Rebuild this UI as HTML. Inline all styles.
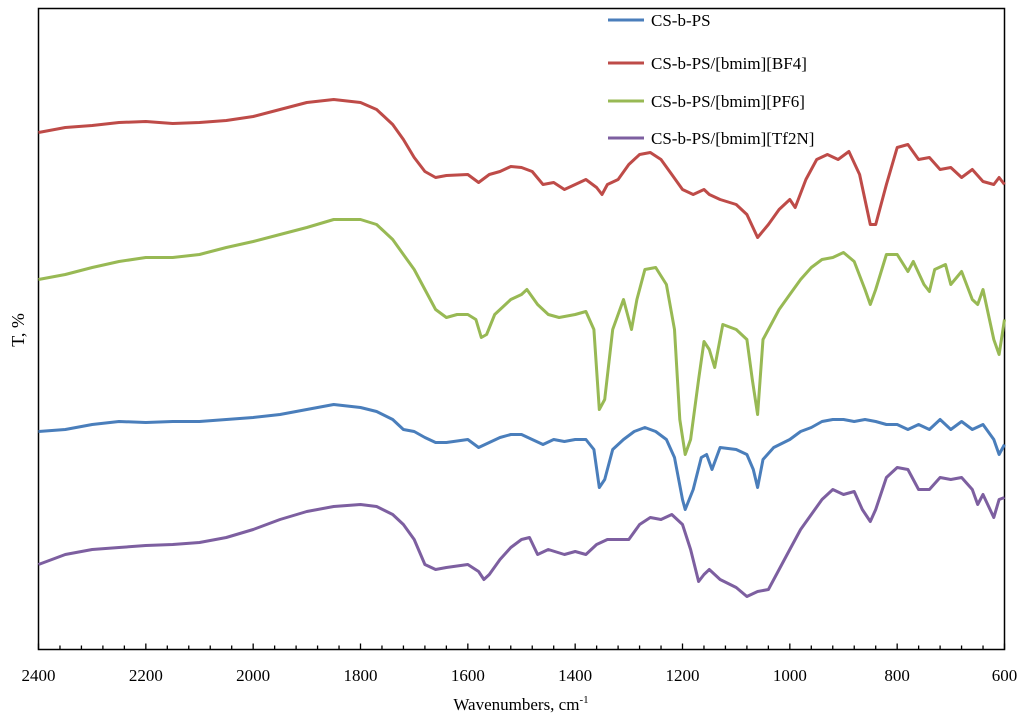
<!DOCTYPE html>
<html><head><meta charset="utf-8"><style>
html,body{margin:0;padding:0;background:#fff}
svg{display:block}
text{font-family:"Liberation Serif",serif;fill:#000}
</style></head><body>
<svg id="chart" width="1024" height="721" viewBox="0 0 1024 721" xmlns="http://www.w3.org/2000/svg">
<rect x="38.5" y="8.5" width="966" height="641" fill="none" stroke="#000" stroke-width="1.5"/>
<g id="ticks"></g>
<g id="series"></g>
<g id="legend"></g>
<text x="521" y="710" font-size="17" text-anchor="middle">Wavenumbers, cm<tspan font-size="11" dy="-7">-1</tspan></text>
<text transform="translate(24,330) rotate(-90)" font-size="18" text-anchor="middle">T, %</text>
</svg>
<script>
const xTicks=[2400,2200,2000,1800,1600,1400,1200,1000,800,600];
const seriesNames=["CS-b-PS","CS-b-PS/[bmim][BF4]","CS-b-PS/[bmim][PF6]","CS-b-PS/[bmim][Tf2N]"];
const wnRed=[2400,2350,2300,2250,2200,2150,2100,2050,2000,1950,1900,1850,1800,1770,1740,1720,1700,1680,1660,1640,1600,1580,1560,1540,1520,1500,1480,1460,1440,1420,1400,1380,1360,1350,1340,1320,1300,1280,1260,1240,1220,1200,1180,1160,1150,1130,1100,1080,1060,1040,1020,1000,990,970,950,930,910,890,870,850,840,820,800,780,760,740,720,700,680,660,640,620,610,600];
const tRed=[517,522,524,527,528,526,527,529,533,540,547,550,547,540,525,510,492,478,472,474,475,467,475,478,483,482,478,465,467,460,465,470,462,455,465,470,485,495,497,490,475,460,455,460,455,450,445,435,412,425,440,450,442,470,490,495,490,498,475,425,425,465,502,505,490,492,480,482,472,480,468,465,472,465];
const wnGreen=[2400,2350,2300,2250,2200,2150,2100,2050,2000,1950,1900,1850,1800,1770,1740,1720,1700,1680,1660,1640,1620,1600,1585,1575,1565,1550,1520,1500,1490,1470,1450,1430,1400,1380,1365,1355,1345,1330,1310,1295,1285,1270,1250,1230,1215,1205,1195,1185,1170,1160,1150,1140,1125,1100,1080,1070,1060,1050,1040,1020,1000,980,960,940,920,900,880,860,850,840,820,800,780,770,750,740,730,710,700,680,660,650,640,620,610,600];
const tGreen=[370,375,382,388,392,392,395,402,408,415,422,430,430,425,410,395,380,360,340,332,335,335,330,312,315,335,350,355,360,345,335,332,335,338,320,240,250,320,350,320,350,380,382,365,320,230,195,210,270,308,300,282,325,320,310,270,235,310,320,340,355,370,382,390,392,397,388,360,345,360,395,395,378,388,365,358,380,385,365,378,350,345,360,310,295,330];
const wnBlue=[2400,2350,2300,2250,2200,2150,2100,2050,2000,1950,1900,1850,1800,1770,1740,1720,1700,1680,1660,1640,1600,1580,1560,1540,1520,1500,1480,1460,1440,1420,1400,1380,1365,1355,1345,1330,1310,1290,1270,1250,1230,1215,1200,1195,1180,1165,1155,1145,1130,1100,1080,1068,1060,1050,1030,1000,980,960,940,920,900,880,860,840,820,800,780,760,740,720,700,680,660,640,620,610,600];
const tBlue=[218,220,225,228,227,228,228,230,232,235,240,245,242,238,230,220,218,212,207,207,210,202,207,212,215,215,210,205,210,208,210,210,200,162,170,200,210,218,222,218,210,192,150,140,160,192,195,180,202,200,195,180,162,190,202,210,218,222,228,230,230,228,230,228,225,225,220,225,220,230,220,228,220,225,210,195,205];
const wnPurple=[2400,2350,2300,2250,2200,2150,2100,2050,2000,1950,1900,1850,1800,1770,1740,1720,1700,1680,1660,1640,1600,1580,1570,1560,1540,1520,1500,1485,1470,1450,1420,1400,1380,1360,1340,1320,1300,1280,1260,1240,1220,1200,1185,1170,1160,1150,1130,1100,1080,1060,1040,1020,1000,980,960,940,920,900,880,865,850,840,820,800,780,760,740,720,700,680,660,650,640,620,610,600];
const tPurple=[85,95,100,102,104,105,107,112,120,130,138,143,145,143,135,125,110,85,80,82,85,78,70,75,90,102,110,112,95,100,95,98,95,105,110,110,110,125,132,130,135,125,100,68,75,80,70,62,53,58,60,80,100,120,135,150,160,155,158,140,128,140,172,182,180,160,160,172,170,172,160,145,155,132,150,152];

const NS="http://www.w3.org/2000/svg";
const X0=38.5,X1=1004.5,Y0=649.5;
function xs(w){return X0+(2400-w)/1800*(X1-X0);}
function ys(v){return Y0-v;}
const svg=document.getElementById('chart');
const tg=document.getElementById('ticks');
for(let w=2400;w>=600;w-=40){
  const major=(w%200===0);
  const l=document.createElementNS(NS,'line');
  
  
  l.setAttribute('x1',xs(w));l.setAttribute('x2',xs(w));
  l.setAttribute('y1',Y0);l.setAttribute('y2',Y0-(major?6:4));
  l.setAttribute('stroke','#000');l.setAttribute('stroke-width','1.3');
  tg.appendChild(l);
}
xTicks.forEach(w=>{
  const t=document.createElementNS(NS,'text');
  
  
  t.setAttribute('x',xs(w));t.setAttribute('y',681);
  t.setAttribute('font-size','17');t.setAttribute('text-anchor','middle');
  t.textContent=w;tg.appendChild(t);
});
const sg=document.getElementById('series');
const defs=[[wnBlue,tBlue,'#4a7ebb','series-cs-b-ps'],[wnRed,tRed,'#be4b48','series-bf4'],[wnGreen,tGreen,'#98b954','series-pf6'],[wnPurple,tPurple,'#7d5fa0','series-tf2n']];
defs.forEach(d=>{
  const p=document.createElementNS(NS,'polyline');
  
  
  p.setAttribute('points',d[0].map((w,i)=>xs(w).toFixed(1)+','+ys(d[1][i]).toFixed(1)).join(' '));
  p.setAttribute('fill','none');p.setAttribute('stroke',d[2]);
  p.setAttribute('stroke-width','3');p.setAttribute('stroke-linejoin','round');
  sg.appendChild(p);
});
const lg=document.getElementById('legend');
const legY=[20,63,101,138];
const legC=['#4a7ebb','#be4b48','#98b954','#7d5fa0'];
seriesNames.forEach((n,i)=>{
  const l=document.createElementNS(NS,'line');
  
  
  l.setAttribute('x1',608);l.setAttribute('x2',644);
  l.setAttribute('y1',legY[i]);l.setAttribute('y2',legY[i]);
  l.setAttribute('stroke',legC[i]);l.setAttribute('stroke-width','3');
  lg.appendChild(l);
  const t=document.createElementNS(NS,'text');
  
  
  t.setAttribute('x',651);t.setAttribute('y',legY[i]+6);
  t.setAttribute('font-size','17');
  t.textContent=n;lg.appendChild(t);
});
</script>
</body></html>
